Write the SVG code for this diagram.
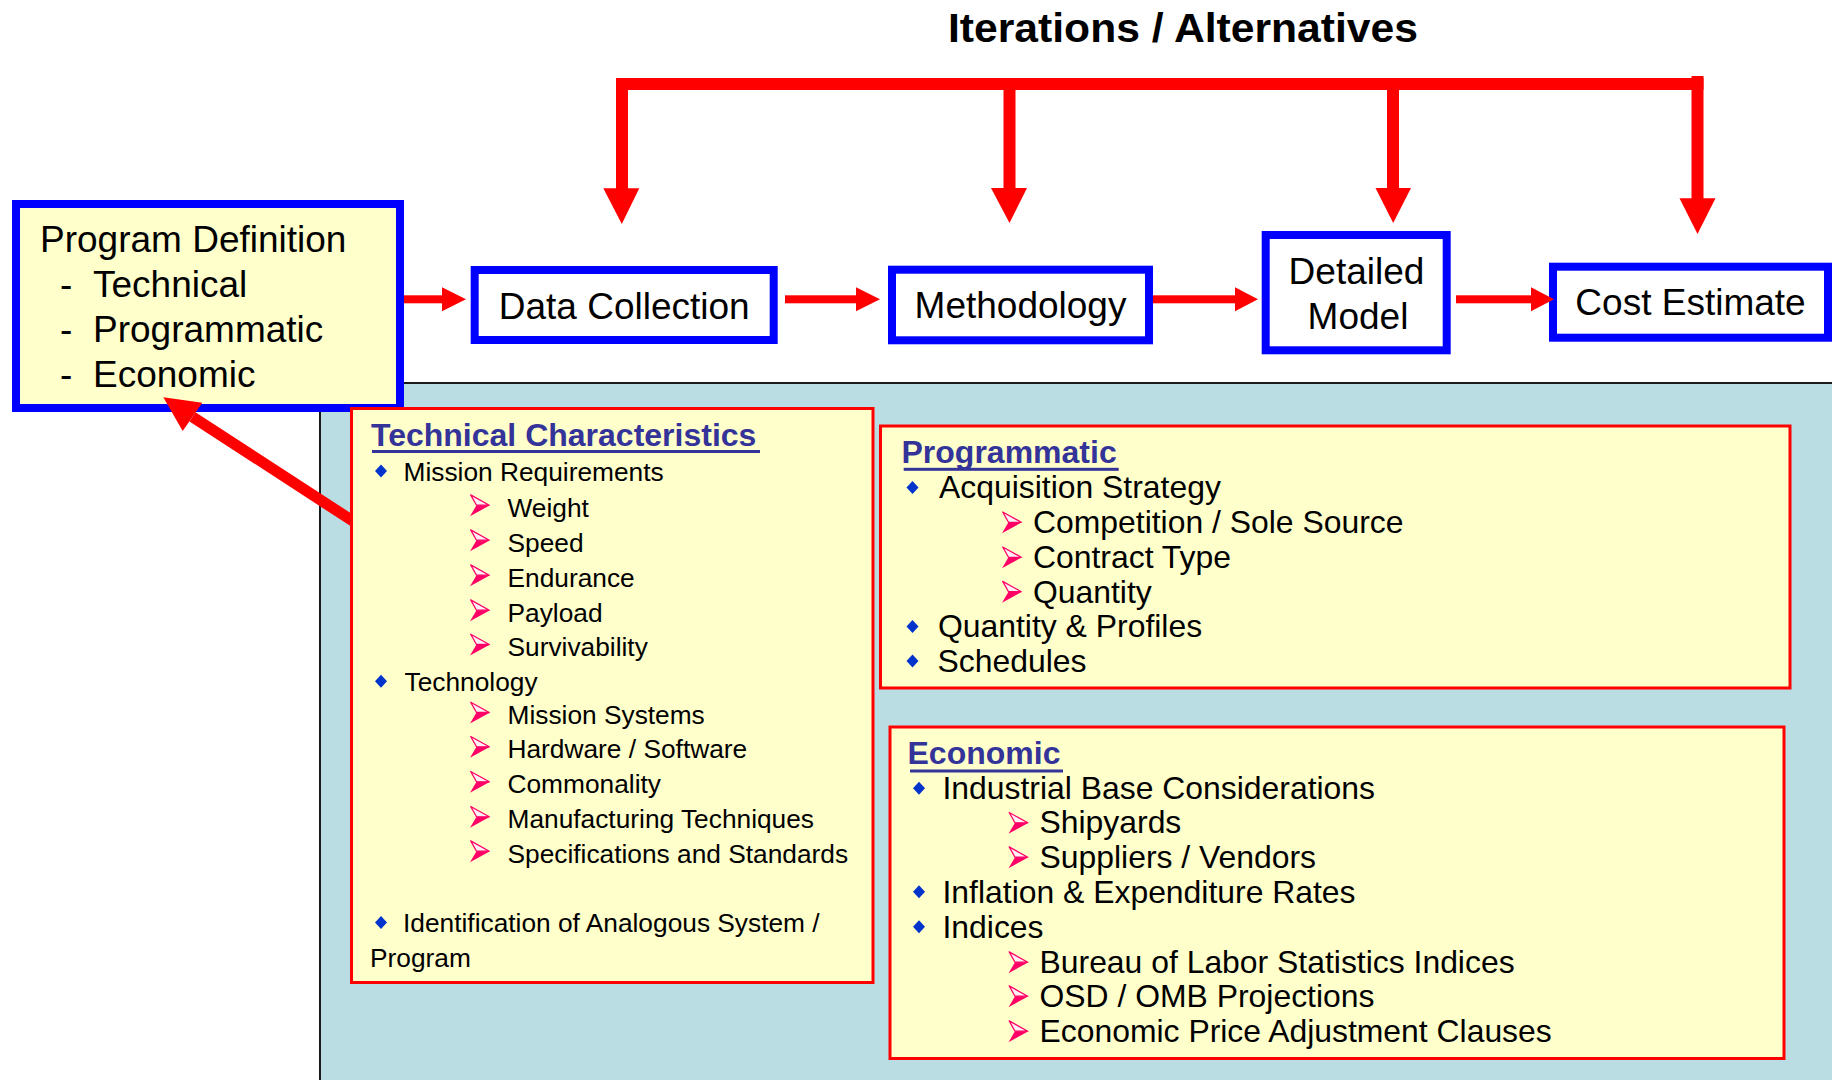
<svg xmlns="http://www.w3.org/2000/svg" width="1832" height="1080" viewBox="0 0 1832 1080">
  <style>
    text { font-family: "Liberation Sans", Arial, sans-serif; fill: #000; }
    .big { font-size: 37px; }
    .title { font-size: 41px; font-weight: bold; }
    .head { font-size: 32px; font-weight: bold; fill: #333399; }
    .tc { font-size: 26.3px; }
    .pe { font-size: 31.9px; }
    .flow { fill: #FFFFFF; stroke: #0000FF; stroke-width: 8; }
    .def { fill: #FFFFCC; stroke: #0000FF; stroke-width: 8; }
    .card { fill: #FFFFCC; stroke: #FF0000; stroke-width: 3; }
    .red { fill: #FF0000; }
    .uline { fill: #333399; }
  </style>
  <defs>
    <path id="dia" d="M0,-6.5 L6,0 L0,6.5 L-6,0 Z" fill="#0033CC"/>
    <g id="arr">
      <path d="M0.7,0.7 L19.3,11 L6.5,11 Z" fill="#FFF0F5" stroke="#FF0066" stroke-width="1.3" stroke-linejoin="round"/>
      <path d="M6.5,11 L20,11 L0,22 Z" fill="#FF0066"/>
    </g>
  </defs>

  <rect width="1832" height="1080" fill="#FFFFFF"/>

  <!-- lower panel -->
  <rect x="320" y="383" width="1512" height="697" fill="#BADDE3"/>
  <path d="M320,1080 V383 H1832" fill="none" stroke="#1A1A1A" stroke-width="2"/>

  <text class="title" x="948" y="42" textLength="470" lengthAdjust="spacingAndGlyphs">Iterations / Alternatives</text>

  <!-- process boxes -->
  <g id="program-definition">
    <rect class="def" x="16" y="204" width="384" height="204"/>
    <text class="big" x="40" y="252">Program Definition</text>
    <text class="big" y="296.7"><tspan x="60">-</tspan><tspan x="93">Technical</tspan></text>
    <text class="big" y="341.7"><tspan x="60">-</tspan><tspan x="93">Programmatic</tspan></text>
    <text class="big" y="386.7"><tspan x="60">-</tspan><tspan x="93">Economic</tspan></text>
  </g>
  <g id="data-collection">
    <rect class="flow" x="474.7" y="270" width="299" height="70"/>
    <text class="big" x="624.2" y="319" text-anchor="middle">Data Collection</text>
  </g>
  <g id="methodology">
    <rect class="flow" x="892" y="269.7" width="257" height="70.6"/>
    <text class="big" x="1020.5" y="318" text-anchor="middle">Methodology</text>
  </g>
  <g id="detailed-model">
    <rect class="flow" x="1265.7" y="235" width="181" height="115.3"/>
    <text class="big" x="1356.5" y="283.5" text-anchor="middle">Detailed</text>
    <text class="big" x="1358" y="329" text-anchor="middle">Model</text>
  </g>
  <g id="cost-estimate">
    <rect class="flow" x="1553" y="266.7" width="275" height="71"/>
    <text class="big" x="1690.5" y="315" text-anchor="middle">Cost Estimate</text>
  </g>

  <!-- connectors -->
  <g id="connectors" class="red">
    <!-- iteration bar and drops -->
    <rect x="616" y="78" width="1087.5" height="12"/>
    <rect x="616" y="78" width="12" height="111"/>
    <polygon points="603.3,188.3 639.3,188.3 621.8,224"/>
    <rect x="1003.5" y="84" width="12" height="105"/>
    <polygon points="991,188 1027,188 1009.5,223"/>
    <rect x="1387" y="84" width="12" height="105"/>
    <polygon points="1375.5,188 1411,188 1393.2,223"/>
    <rect x="1691.5" y="76" width="12" height="123"/>
    <polygon points="1679.5,198.3 1715.5,198.3 1697.5,234"/>
    <!-- flow arrows -->
    <rect x="404" y="295.3" width="39" height="8"/>
    <polygon points="442,287.3 442,311.3 466,299.3"/>
    <rect x="785" y="295.3" width="72" height="8"/>
    <polygon points="856,287.3 856,311.3 880,299.3"/>
    <rect x="1153" y="295.3" width="83" height="8"/>
    <polygon points="1235,287.3 1235,311.3 1258,299.3"/>
    <rect x="1456" y="295.3" width="76" height="8"/>
    <polygon points="1531,287.3 1531,311.3 1554,299.3"/>
    <!-- feedback to program definition -->
    <line x1="192.5" y1="416.8" x2="362" y2="527" stroke="#FF0000" stroke-width="11"/>
    <polygon points="163.3,397.3 202.3,402.7 182.7,431"/>
  </g>

  <!-- technical characteristics -->
  <g id="technical-characteristics">
    <rect class="card" x="351.5" y="408.5" width="521.5" height="574"/>
    <text class="head" x="371" y="446">Technical Characteristics</text>
    <rect class="uline" x="372" y="450" width="388" height="3"/>
    <use href="#dia" x="381" y="471"/>
    <text class="tc" x="403.5" y="480.7">Mission Requirements</text>
    <use href="#arr" x="470" y="494.2"/>
    <text class="tc" x="507.5" y="516.7">Weight</text>
    <use href="#arr" x="470" y="529.2"/>
    <text class="tc" x="507.5" y="551.7">Speed</text>
    <use href="#arr" x="470" y="564.2"/>
    <text class="tc" x="507.5" y="586.7">Endurance</text>
    <use href="#arr" x="470" y="599.2"/>
    <text class="tc" x="507.5" y="621.7">Payload</text>
    <use href="#arr" x="470" y="633.5"/>
    <text class="tc" x="507.5" y="656">Survivability</text>
    <use href="#dia" x="381" y="681.3"/>
    <text class="tc" x="404.5" y="691">Technology</text>
    <use href="#arr" x="470" y="701.5"/>
    <text class="tc" x="507.5" y="724">Mission Systems</text>
    <use href="#arr" x="470" y="735.8"/>
    <text class="tc" x="507.5" y="758.3">Hardware / Software</text>
    <use href="#arr" x="470" y="770.8"/>
    <text class="tc" x="507.5" y="793.3">Commonality</text>
    <use href="#arr" x="470" y="805.8"/>
    <text class="tc" x="507.5" y="828.3">Manufacturing Techniques</text>
    <use href="#arr" x="470" y="840.2"/>
    <text class="tc" x="507.5" y="862.7">Specifications and Standards</text>
    <use href="#dia" x="381" y="922.6"/>
    <text class="tc" x="403" y="932.3">Identification of Analogous System /</text>
    <text class="tc" x="370" y="966.7">Program</text>
  </g>

  <!-- programmatic -->
  <g id="programmatic">
    <rect class="card" x="880.5" y="426" width="909.5" height="262"/>
    <text class="head" x="901.5" y="462.7">Programmatic</text>
    <rect class="uline" x="903.7" y="467.8" width="215" height="3"/>
    <use href="#dia" x="912.5" y="487.5"/>
    <text class="pe" x="939" y="498.3">Acquisition Strategy</text>
    <use href="#arr" x="1002" y="511.3"/>
    <text class="pe" x="1033" y="533.3">Competition / Sole Source</text>
    <use href="#arr" x="1002" y="546.3"/>
    <text class="pe" x="1033" y="568.3">Contract Type</text>
    <use href="#arr" x="1002" y="580.7"/>
    <text class="pe" x="1033" y="602.7">Quantity</text>
    <use href="#dia" x="912.5" y="626.5"/>
    <text class="pe" x="938" y="637.3">Quantity &amp; Profiles</text>
    <use href="#dia" x="912.5" y="660.9"/>
    <text class="pe" x="937.5" y="671.7">Schedules</text>
  </g>

  <!-- economic -->
  <g id="economic">
    <rect class="card" x="890" y="727" width="894" height="331.5"/>
    <text class="head" x="907.5" y="764.3">Economic</text>
    <rect class="uline" x="910" y="769.5" width="153" height="3"/>
    <use href="#dia" x="919" y="788.3"/>
    <text class="pe" x="942.5" y="799.3">Industrial Base Considerations</text>
    <use href="#arr" x="1008.5" y="811.8"/>
    <text class="pe" x="1039.5" y="833.3">Shipyards</text>
    <use href="#arr" x="1008.5" y="846.2"/>
    <text class="pe" x="1039.5" y="867.7">Suppliers / Vendors</text>
    <use href="#dia" x="919" y="891.7"/>
    <text class="pe" x="942.5" y="902.7">Inflation &amp; Expenditure Rates</text>
    <use href="#dia" x="919" y="926.7"/>
    <text class="pe" x="942.5" y="937.7">Indices</text>
    <use href="#arr" x="1008.5" y="951.2"/>
    <text class="pe" x="1039.5" y="972.7">Bureau of Labor Statistics Indices</text>
    <use href="#arr" x="1008.5" y="985.2"/>
    <text class="pe" x="1039.5" y="1006.7">OSD / OMB Projections</text>
    <use href="#arr" x="1008.5" y="1020.2"/>
    <text class="pe" x="1039.5" y="1041.7">Economic Price Adjustment Clauses</text>
  </g>
</svg>
